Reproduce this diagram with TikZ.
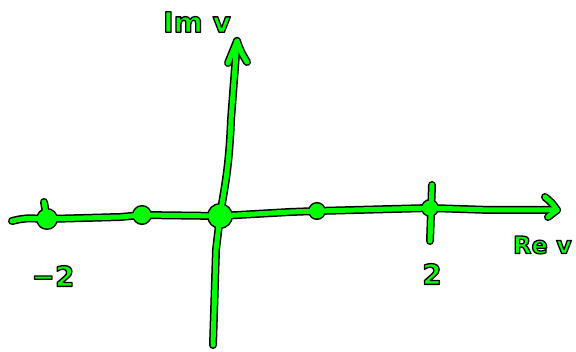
\documentclass[tikz,border=0pt]{standalone}
\usepackage{fontspec}
\setmainfont{DejaVu Sans}
\definecolor{lime}{RGB}{0,255,0}
\newcommand\glabel[1]{\textcolor{lime}{\special{pdf:literal direct 2 Tr 1.3 w 1 j 0 0 0 RG}#1\special{pdf:literal direct 0 Tr}}}
\begin{document}
\begin{tikzpicture}[x=1pt,y=-1pt,
  outer/.style={draw=black,line width=8pt,line cap=round,line join=round},
  inner/.style={draw=lime,line width=5pt,line cap=round,line join=round},
  outerdot/.style={fill=black,draw=black,line width=3pt},
  innerdot/.style={fill=lime},
  lbl/.style={font=\bfseries\fontsize{28}{28}\selectfont,inner sep=0pt}]
\useasboundingbox (0,0) rectangle (576,352);
\coordinate (hL) at (12,221);
\coordinate (hR) at (557,210);
\coordinate (vB) at (213,345);
\coordinate (vT) at (237,41);
\coordinate (dA) at (47,219);
\coordinate (dB) at (142,215);
\coordinate (dO) at (220,216);
\coordinate (dC) at (317,211);
\coordinate (dD) at (430,208);
\newcommand\sketchpaths[1]{%
 \draw[#1] (hL) .. controls (25,218) .. (dA) -- (120,217) -- (dB) -- (dO) -- (290,212) -- (dC) -- (dD) -- (490,210) -- (hR);
 \draw[#1] (vB) -- (216,250) -- (dO) .. controls (224,190) and (229,170) .. (231,120) -- (vT);
 \draw[#1] (228,63) .. controls (233,52) .. (vT) .. controls (241,52) .. (247,62);
 \draw[#1] (545,197) .. controls (552,203) .. (hR) .. controls (553,214) .. (548,217);
 \draw[#1] (432,185) -- (430,241);
 \draw[#1] (44,202) -- (dA);
}
\sketchpaths{outer}
\foreach \c/\r in {dA/9.5,dB/8.5,dO/11.5,dC/7.5,dD/7.5}{\fill[outerdot] (\c) circle (\r);}
\sketchpaths{inner}
\foreach \c/\r in {dA/9.5,dB/8.5,dO/11.5,dC/7.5,dD/7.5}{\fill[innerdot] (\c) circle (\r);}
\node[lbl] (im) at (197,22) {\glabel{Im v}};
\node[lbl,font=\bfseries\fontsize{24}{24}\selectfont,anchor=east] (re) at (572,245) {\glabel{Re v}};
\node[lbl] (m2) at (53,276) {\glabel{−2}};
\node[lbl] (p2) at (432,274) {\glabel{2}};
\end{tikzpicture}
\end{document}
